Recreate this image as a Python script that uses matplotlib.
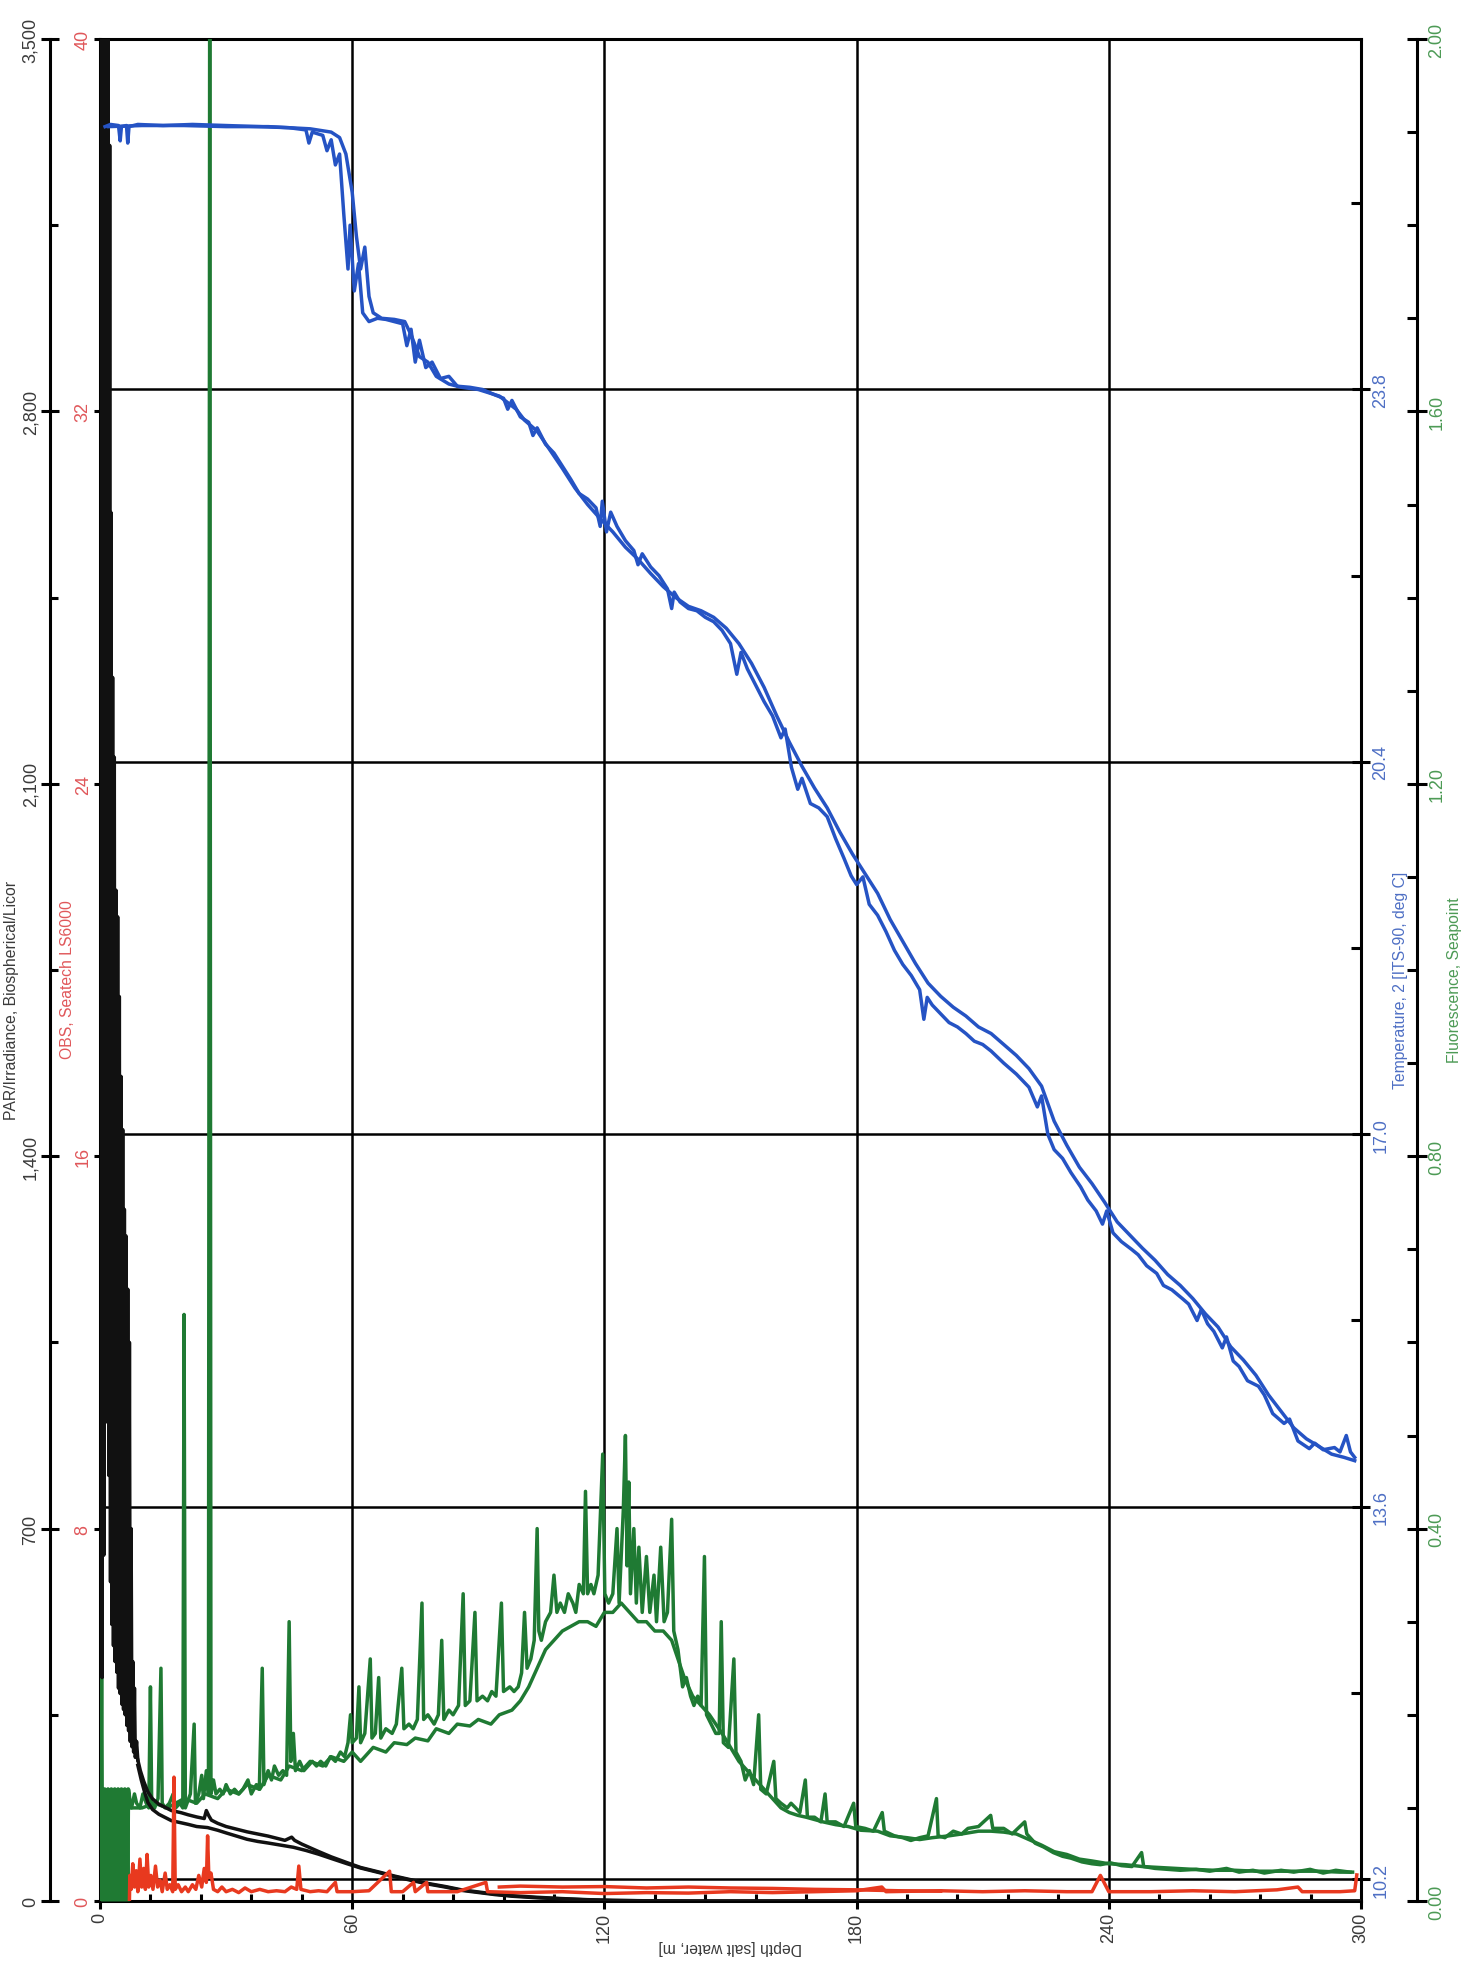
import numpy as np
import matplotlib
matplotlib.use('Agg')
import matplotlib.pyplot as plt
from matplotlib.ticker import MultipleLocator, FuncFormatter

plt.rcParams['font.family'] = ['Liberation Sans', 'DejaVu Sans']

# ---------------- data (depth m, value) ----------------
temp_down = [(1.2,26.20),(2.5,26.22),(4.4,26.21),(4.8,26.07),(5.1,26.20),(6.3,26.21),(6.6,26.05),(6.9,26.20),
             (9,26.22),(15,26.21),(22,26.22),(30,26.21),(38,26.20),(45,26.19),(49,26.17),(49.7,26.05),(50.5,26.15),
             (53,26.12),(54,25.98),(55,26.08),(56,25.85),(57,25.95),(58,25.4),(59,24.9),(59.5,25.3),(60.5,24.7),
             (61.5,24.95),(62.5,24.5),(64,24.42),(66,24.45),(68,24.44),(70,24.42),(72,24.40),(73,24.2),(74,24.35),
             (75,24.05),(76,24.25),(77.5,24.0),(79,24.05),(81,23.9),(83,23.92),(85,23.83),(88,23.82),(91,23.80),
             (94,23.75),(96,23.72),(97,23.62),(98,23.70),(100,23.55),(102,23.50),(103,23.38),(104,23.45),(106,23.30),
             (108,23.22),(110,23.10),(112,22.98),(114,22.85),(116,22.80),(118,22.72),(119,22.55),(119.5,22.78),
             (120.5,22.50),(121.5,22.68),(123,22.55),(125,22.42),(127,22.33),(128,22.20),(129,22.30),(131,22.18),
             (133,22.10),(135,21.98),(136,21.80),(136.6,21.95),(138,21.86),(140,21.80),(142,21.78),(144,21.72),
             (146,21.68),(148,21.60),(150,21.48),(151.5,21.20),(152.5,21.40),(154,21.25),(156,21.10),(158,20.95),
             (160,20.82),(162,20.62),(163,20.70),(164.5,20.35),(166,20.15),(167,20.25),(169,20.02),(171,19.98),
             (173,19.90),(175,19.70),(177,19.52),(178.7,19.36),(180,19.28),(181.5,19.35),(183,19.10),(185,19.00),
             (187,18.85),(189,18.68),(191,18.55),(193,18.45),(195,18.32),(196,18.05),(196.8,18.25),(198,18.18),
             (200,18.10),(202,18.02),(204,17.98),(206,17.92),(208,17.85),(210,17.82),(212,17.76),(215,17.65),
             (218,17.55),(221,17.43),(223,17.25),(224,17.35),(225.5,17.00),(227,16.86),(229,16.78),(231,16.65),
             (233.3,16.52),(235,16.40),(237,16.30),(238.5,16.18),(239.5,16.30),(241,16.10),(243,16.02),(245.4,15.95),
             (247,15.90),(249,15.80),(251.4,15.73),(253,15.62),(255,15.58),(257.5,15.50),(259,15.45),(261,15.30),
             (262,15.40),(263.5,15.27),(265,15.20),(267,15.05),(268,15.15),(269.6,14.93),(271,14.88),(273,14.75),
             (275.6,14.70),(277,14.62),(279,14.45),(281.7,14.36),(283,14.40),(285,14.20),(287.7,14.13),(289,14.18),
             (291,14.12),(293.7,14.14),(295,14.10),(296.5,14.25),(297.5,14.10),(298.5,14.05)]

temp_up = [(2,26.20),(10,26.21),(20,26.21),(30,26.20),(40,26.20),(50,26.18),(55,26.15),(57,26.10),(58.5,25.95),
           (60,25.6),(61,25.2),(62,24.9),(63,25.1),(64,24.65),(65,24.5),(67,24.45),(70,24.44),(72.5,24.42),
           (74,24.30),(76,24.10),(78,24.05),(80,23.92),(83,23.85),(86,23.82),(90,23.80),(95,23.74),(99,23.62),
           (101,23.52),(104,23.42),(107,23.25),(110,23.08),(113,22.90),(116,22.75),(119,22.62),(122,22.50),
           (125,22.36),(128,22.25),(131,22.12),(134,22.00),(137,21.90),(140,21.82),(143,21.78),(146,21.72),
           (149,21.62),(152,21.48),(155,21.30),(158,21.08),(161,20.82),(164,20.58),(167,20.36),(170,20.16),
           (173,19.98),(176,19.76),(179,19.56),(182,19.38),(185,19.20),(188,18.96),(191,18.76),(194,18.56),
           (197,18.38),(200,18.26),(203,18.16),(206,18.08),(209,17.98),(212,17.92),(215,17.82),(218,17.72),
           (221,17.60),(224,17.44),(227,17.12),(230,16.90),(233,16.70),(236,16.55),(239,16.38),(242,16.20),
           (245,16.08),(248,15.96),(251,15.85),(254,15.72),(257,15.62),(260,15.50),(263,15.36),(266,15.24),
           (269,15.06),(272,14.94),(275,14.80),(278,14.62),(281,14.47),(284,14.32),(287,14.22),(290,14.15),
           (293,14.08),(296,14.05),(298.5,14.02)]

fluor_surface = [(0.1,0.0),(0.3,0.31),(0.5,0.02),(0.7,0.11),(0.9,0.01),(1.1,0.12),(1.3,0.02),(1.5,0.11),(1.7,0.0),
                 (1.9,0.12),(2.1,0.03),(2.3,0.115),(2.5,0.01),(2.7,0.12),(2.9,0.02),(3.1,0.11),(3.3,0.0),(3.5,0.12),
                 (3.7,0.02),(3.9,0.115),(4.1,0.01),(4.3,0.12),(4.5,0.02),(4.7,0.11),(4.9,0.0),(5.1,0.12),(5.3,0.03),
                 (5.5,0.11),(5.7,0.01),(5.9,0.12),(6.1,0.02),(6.3,0.115),(6.5,0.0),(6.7,0.12),(7.0,0.11)]

fluor_down = [(7.0,0.11),(7.5,0.10),(8.2,0.115),(8.7,0.105),(9.5,0.10),(10.2,0.115),(11.0,0.105),(11.6,0.10),(12.0,0.23),
              (12.3,0.105),(13.0,0.10),(13.8,0.11),(14.5,0.25),(14.8,0.105),(15.5,0.10),(16.5,0.105),(17.4,0.115),
              (18.0,0.10),(19.0,0.105),(19.7,0.10),(20.0,0.63),(20.3,0.10),(21.5,0.115),(22.4,0.19),(22.7,0.105),
              (23.5,0.115),(24.2,0.135),(24.6,0.11),(25.3,0.14),(25.8,0.115),(26.1,2.10),(26.4,0.115),(27.0,0.13),
              (27.6,0.115),(28.5,0.12),(29.3,0.115),(30.0,0.125),(31.0,0.115),(32.0,0.12),(33.0,0.115),(34.0,0.12),
              (35.2,0.13),(36.0,0.115),(37.2,0.125),(37.9,0.12),(38.6,0.25),(39.0,0.125),(40.0,0.14),(40.8,0.13),
              (41.5,0.145),(42.5,0.135),(43.5,0.14),(44.4,0.135),(45.0,0.30),(45.4,0.15),(46.0,0.18),(46.5,0.14),
              (47.5,0.15),(48.5,0.14),(49.5,0.145),(50.5,0.15),(51.5,0.145),(52.5,0.15),(53.7,0.145),(54.8,0.155),
              (56.0,0.15),(57.2,0.16),(58.2,0.155),(59.0,0.17),(59.6,0.20),(60.0,0.17),(61.0,0.175),(61.6,0.23),
              (62.0,0.17),(63.0,0.18),(64.3,0.26),(64.7,0.175),(65.5,0.18),(66.3,0.24),(66.8,0.175),(68.0,0.185),
              (69.5,0.18),(70.5,0.19),(71.8,0.25),(72.3,0.185),(73.5,0.19),(74.5,0.185),(75.5,0.195),(76.6,0.32),
              (77.0,0.195),(78.0,0.20),(79.5,0.19),(80.5,0.20),(81.3,0.28),(81.8,0.195),(83.0,0.205),(84.0,0.20),
              (85.3,0.21),(86.4,0.33),(86.9,0.21),(88.0,0.215),(89.2,0.31),(89.7,0.215),(91.0,0.22),(92.2,0.215),
              (93.2,0.225),(94.2,0.22),(95.5,0.32),(96.0,0.225),(97.5,0.23),(98.5,0.225),(99.5,0.23),(100.3,0.245),
              (101.0,0.31),(101.6,0.25),(102.5,0.26),(103.3,0.28),(104.0,0.40),(104.4,0.29),(105.0,0.28),
              (106.0,0.30),(107.2,0.31),(108.0,0.35),(108.7,0.31),(109.5,0.32),(110.5,0.31),(111.4,0.33),
              (112.5,0.32),(113.2,0.31),(114.0,0.34),(115.0,0.33),(115.5,0.44),(116.0,0.33),(116.8,0.34),
              (117.5,0.33),(118.5,0.35),(119.6,0.48),(120.1,0.33),(121.0,0.32),(122.0,0.33),(123.0,0.40),
              (123.5,0.32),(124.5,0.42),(125.0,0.50),(125.4,0.36),(125.8,0.45),(126.2,0.33),(127.0,0.40),
              (127.6,0.32),(128.2,0.38),(129.0,0.31),(130.0,0.37),(130.8,0.31),(131.8,0.35),(132.4,0.30),
              (133.4,0.38),(134.2,0.30),(135.0,0.31),(136.0,0.41),(136.5,0.29),(137.5,0.27),(138.6,0.23),
              (139.5,0.24),(140.5,0.22),(141.3,0.21),(142.2,0.22),(143.0,0.21),(143.8,0.37),(144.3,0.20),
              (145.4,0.19),(146.5,0.18),(147.3,0.18),(147.8,0.30),(148.3,0.17),(149.5,0.165),(150.8,0.26),
              (151.3,0.16),(152.5,0.15),(153.5,0.13),(154.5,0.14),(155.5,0.125),(156.7,0.20),(157.2,0.12),
              (158.5,0.115),(160.3,0.15),(160.8,0.11),(162.0,0.105),(163.5,0.10),(164.4,0.105),(165.5,0.10),
              (166.5,0.095),(167.8,0.13),(168.3,0.09),(170.0,0.09),(171.5,0.085),(172.5,0.115),(173.0,0.085),
              (175.0,0.085),(177.0,0.08),(179.3,0.105),(179.8,0.08),(182.0,0.078),(184.0,0.075),(186.1,0.095),
              (186.6,0.075),(189.0,0.07),(191.0,0.068),(192.9,0.065),(195.0,0.068),(197.0,0.07),(199.0,0.11),
              (199.4,0.07),(201.0,0.068),(203.0,0.075),(205.0,0.072),(206.5,0.078),(209.0,0.08),(211.9,0.092),
              (212.4,0.078),(215.0,0.078),(217.0,0.072),(220.0,0.085),(220.5,0.072),(222.5,0.062),(224.5,0.058),
              (226.8,0.052),(229.0,0.048),(231.0,0.046),(233.6,0.042),(236.0,0.04),(238.0,0.039),(240.4,0.041),
              (243.0,0.038),(245.5,0.037),(247.8,0.052),(248.3,0.037),(251.0,0.035),(254.0,0.034),(257.0,0.033),
              (260.8,0.034),(264.0,0.032),(268.0,0.035),(271.0,0.031),(274.3,0.033),(277.0,0.030),(281.0,0.033),
              (284.0,0.031),(287.9,0.034),(291.0,0.030),(294.0,0.033),(297.4,0.031)]

fluor_up = [(7.0,0.10),(10,0.10),(13,0.105),(16,0.10),(20,0.11),(23,0.105),(25,0.115),(28,0.11),(30,0.12),
            (33,0.115),(35,0.125),(38,0.12),(40,0.135),(43,0.13),(45,0.145),(48,0.14),(50,0.15),(53,0.145),
            (55,0.155),(58,0.15),(60,0.16),(62,0.15),(65,0.165),(68,0.16),(70,0.17),(73,0.168),(75,0.175),
            (78,0.172),(80,0.185),(83,0.18),(85,0.19),(88,0.188),(90,0.195),(93,0.19),(95,0.20),(98,0.205),
            (100,0.215),(102,0.23),(104,0.25),(106,0.27),(108,0.28),(110,0.29),(112,0.295),(114,0.30),(116,0.30),
            (118,0.295),(120,0.31),(122,0.31),(124,0.32),(126,0.31),(128,0.30),(130,0.30),(132,0.29),(134,0.29),
            (136,0.28),(137.5,0.26),(139,0.24),(141,0.22),(143,0.21),(145,0.20),(148,0.18),(150,0.165),
            (152,0.15),(154,0.14),(156,0.13),(158,0.12),(160,0.11),(162,0.10),(164,0.095),(166,0.092),
            (168,0.09),(172,0.085),(175,0.082),(178,0.08),(181,0.076),(185,0.075),(188,0.07),(192,0.068),
            (195,0.066),(198,0.068),(202,0.07),(205,0.072),(209,0.075),(212,0.075),(215,0.074),(218,0.072),
            (221,0.066),(224,0.06),(227,0.053),(230,0.05),(233,0.045),(236,0.043),(240,0.04),(244,0.039),
            (248,0.037),(252,0.036),(256,0.035),(260,0.034),(265,0.033),(270,0.033),(275,0.032),(280,0.032),
            (285,0.032),(290,0.032),(295,0.031),(298,0.031)]

par_surface = [(0.3,3900),(0.5,420),(0.7,3900),(0.9,650),(1.1,3900),(1.3,900),(1.5,3900),(1.7,1150),(1.9,3900),
               (2.1,800),(2.3,3300),(2.5,600),(2.6,2610),(2.8,520),(3.0,2300),(3.2,480),(3.4,2150),(3.6,450),
               (3.8,1900),(4.0,430),(4.2,1850),(4.4,400),(4.6,1700),(4.8,390),(5.0,1550),(5.2,370),(5.4,1450),
               (5.6,360),(5.8,1300),(6.0,350),(6.2,1250),(6.4,330),(6.6,1150),(6.8,320),(7.0,1050),(7.2,300),
               (7.4,700),(7.6,290),(7.8,450),(8.0,280),(8.2,400),(8.4,270),(8.7,300),(9.0,265)]

par_down = [(9.0,265),(9.6,245),(10.4,225),(11.4,205),(12.5,192),(14,182),(15.5,176),(17,170),(19.3,166),
            (21,162),(23,158),(24.8,155),(25.3,170),(25.9,160),(26.5,152),(28,146),(30,140),(32.5,135),(35,130),
            (37.5,126),(40,122),(42,118),(44,114),(45.6,120),(46.3,114),(48,107),(50,100),(52,93),(55,83),(58.8,72),
            (62,63),(66.6,54),(70,47),(74.5,39),(78,33),(82.3,27),(86,21),(90,17),(94,13),(98,10),(104,7),
            (110,4.5),(116,2.5),(122,1.2),(130,0.4),(140,0),(200,0),(260,0),(300,0)]

par_up = [(9.0,255),(9.8,228),(10.6,205),(11.4,185),(12.5,172),(14,163),(15.5,157),(17,151),(19.3,147),
          (21,144),(23,140),(25.6,138),(28,133),(30,128),(32.5,122),(35,116),(37.5,112),(40,109),(43,105),(46,101),
          (49,95),(52,88),(55,80),(58.8,70),(62,62),(66.6,53),(70,46),(74.5,38),(78,32),(82.3,26),(86,20),
          (90,16),(94,12),(98,9),(104,6),(110,4),(116,2),(122,1),(130,0.3),(140,0),(200,0),(260,0),(300,0)]

obs_down = [(7.0,0.0),(7.1,0.55),(7.4,0.25),(7.8,0.8),(8.2,0.3),(8.6,0.65),(9.0,0.2),(9.5,0.9),(9.9,0.3),(10.4,0.7),
            (10.8,0.25),(11.2,1.0),(11.6,0.3),(12.1,0.55),(12.6,0.25),(13.2,0.75),(13.7,0.3),(14.3,0.45),(14.8,0.2),
            (15.5,0.6),(16.0,0.25),(16.6,0.35),(17.3,0.2),(17.6,2.66),(17.9,0.25),(18.6,0.35),(19.4,0.2),(20.3,0.3),
            (21,0.2),(22,0.35),(22.8,0.25),(23.5,0.55),(24.2,0.3),(24.8,0.7),(25.3,0.4),(25.6,1.4),(25.9,0.5),
            (26.4,0.6),(27,0.25),(28,0.2),(29,0.3),(30,0.2),(31.5,0.25),(33,0.18),(34.5,0.28),(36,0.2),(38,0.25),
            (40,0.2),(42,0.22),(44,0.2),(45.5,0.3),(46.8,0.25),(47.3,0.75),(47.8,0.25),(50,0.2),(52,0.22),(54,0.2),
            (56,0.4),(56.4,0.2),(60,0.2),(64,0.22),(68.9,0.64),(69.3,0.2),(72,0.2),(74.6,0.4),(75,0.2),(77.7,0.4),
            (78,0.2),(85,0.2),(91.8,0.4),(92.2,0.2),(100,0.18),(110,0.2),(120,0.16),(130,0.18),(140,0.17),
            (150,0.2),(160,0.18),(170,0.2),(180,0.22),(186,0.3),(187,0.2),(200,0.22),(210,0.2),(220,0.22),
            (230,0.2),(236,0.2),(238,0.55),(240,0.2),(250,0.2),(260,0.22),(270,0.2),(280,0.24),(285,0.3),
            (286,0.2),(295,0.2),(298.5,0.22),(299,0.56)]

obs_up = [(95,0.3),(100,0.32),(110,0.3),(120,0.31),(130,0.28),(140,0.3),(150,0.28),(160,0.27),(170,0.25),
          (180,0.24),(190,0.22),(200,0.21)]

depth_ticks = [0, 60, 120, 180, 240, 300]
par_ticks = [0, 700, 1400, 2100, 2800, 3500]
obs_ticks = [0, 8, 16, 24, 32, 40]
temp_ticks = [10.2, 13.6, 17.0, 20.4, 23.8]
temp_minor = [11.9, 15.3, 18.7, 22.1, 25.5]
fluor_ticks = [0.0, 0.4, 0.8, 1.2, 1.6, 2.0]

# ---------------- colours ----------------
C_BLUE, C_GREEN, C_RED, C_BLACK = '#2553c4', '#1f7a33', '#e8391f', '#111111'
T_GREY, T_RED, T_BLUE, T_GREEN = '#3a3a3a', '#e0575a', '#4e6fc4', '#4c9a55'
LW_AX, LW_DATA = 2.2, 2.5
FS_TICK, FS = 13, 11.3

fig = plt.figure(figsize=(14.64, 19.65), dpi=100)
W, H = 1464, 1965
ax = fig.add_axes([100 / W, 63 / H, 1261 / W, 1862 / H])
ax.set_zorder(0)

def hide(a, keep=()):
    for s in ['left', 'right', 'top', 'bottom']:
        a.spines[s].set_visible(s in keep)

# host: depth axis + OBS spine
ax.set_xlim(0, 300)
ax.set_ylim(0, 40)
hide(ax, keep=('left', 'top', 'bottom'))
for s in ax.spines.values():
    s.set_linewidth(LW_AX)
ax.set_xticks(depth_ticks)
ax.xaxis.set_minor_locator(MultipleLocator(12))
ax.tick_params(axis='x', which='major', direction='out', length=6, width=LW_AX, pad=2,
               labelsize=FS_TICK, labelrotation=90, labelcolor=T_GREY)
ax.tick_params(axis='x', which='minor', direction='in', length=5, width=LW_AX)
ax.grid(axis='x', which='major', color='k', lw=1.8)
ax.set_yticks(obs_ticks)
ax.tick_params(axis='y', direction='out', length=4.5, width=LW_AX, pad=1.5,
               labelsize=FS_TICK, labelrotation=90, labelcolor=T_RED)
plt.setp(ax.get_yticklabels(), va='center')

# temperature axis (right spine, horizontal grid)
ax_t = ax.twinx()
ax_t.set_zorder(1)
ax_t.set_ylim(10.0, 27.0)
hide(ax_t, keep=('right',))
ax_t.spines['right'].set_linewidth(LW_AX)
ax_t.set_yticks(temp_ticks)
ax_t.set_yticks(temp_minor, minor=True)
ax_t.yaxis.set_major_formatter(FuncFormatter(lambda v, p: f'{v:.1f}'))
ax_t.tick_params(axis='y', which='major', direction='inout', length=13.5, width=LW_AX, pad=1.5,
                 labelsize=FS_TICK, labelrotation=90, labelcolor=T_BLUE)
ax_t.tick_params(axis='y', which='minor', direction='in', length=7, width=LW_AX)
plt.setp(ax_t.get_yticklabels(), va='center')
ax_t.grid(axis='y', which='major', color='k', lw=1.8)

# fluorescence axis (outer right)
ax_f = ax.twinx()
ax_f.set_zorder(2)
ax_f.set_ylim(0, 2.0)
hide(ax_f, keep=('right',))
ax_f.spines['right'].set_position(('outward', 40))
ax_f.spines['right'].set_linewidth(LW_AX)
ax_f.set_yticks(fluor_ticks)
ax_f.yaxis.set_minor_locator(MultipleLocator(0.1))
ax_f.yaxis.set_major_formatter(FuncFormatter(lambda v, p: f'{v:.2f}'))
ax_f.tick_params(axis='y', which='major', direction='inout', length=14, width=LW_AX, pad=1.5,
                 labelsize=FS_TICK, labelrotation=90, labelcolor=T_GREEN)
ax_f.tick_params(axis='y', which='minor', direction='in', length=7, width=LW_AX)
plt.setp(ax_f.get_yticklabels(), va='center')

# PAR axis (outer left)
ax_p = ax.twinx()
ax_p.set_zorder(3)
ax_p.set_ylim(0, 3500)
hide(ax_p, keep=('left',))
ax_p.yaxis.set_ticks_position('left')
ax_p.spines['left'].set_position(('outward', 36))
ax_p.spines['left'].set_linewidth(LW_AX)
ax_p.set_yticks(par_ticks)
ax_p.yaxis.set_minor_locator(MultipleLocator(350))
ax_p.yaxis.set_major_formatter(FuncFormatter(lambda v, p: f'{v:,.0f}'))
ax_p.tick_params(axis='y', which='major', direction='inout', length=12.5, width=LW_AX, pad=1.5,
                 labelsize=FS_TICK, labelrotation=90, labelcolor=T_GREY)
ax_p.tick_params(axis='y', which='minor', direction='in', length=6, width=LW_AX)
plt.setp(ax_p.get_yticklabels(), va='center')

# red OBS data and blue temperature data on their own layers
ax_r = ax.twinx()
ax_r.set_zorder(4)
ax_r.set_ylim(0, 40)
hide(ax_r)
ax_r.set_yticks([])

ax_b = ax.twinx()
ax_b.set_zorder(5)
ax_b.set_ylim(10.0, 27.0)
hide(ax_b)
ax_b.set_yticks([])

def xy(series):
    arr = np.array(series, dtype=float)
    return arr[:, 0], arr[:, 1]

# near-surface fluorescence is a solid smear in the scan
d, v = xy(fluor_surface)
ax_f.fill_between(d, 0, v, color=C_GREEN, lw=0)
ax_f.plot(d, v, color=C_GREEN, lw=3.0)
for series in (fluor_up, fluor_down):
    d, v = xy(series)
    ax_f.plot(d, v, color=C_GREEN, lw=LW_DATA)
for series in (par_up, par_down, par_surface):
    d, v = xy(series)
    ax_p.plot(d, v, color=C_BLACK, lw=LW_DATA)
for series in (obs_up, obs_down):
    d, v = xy(series)
    ax_r.plot(d, v, color=C_RED, lw=LW_DATA)
for series in (temp_up, temp_down):
    d, v = xy(series)
    ax_b.plot(d, v, color=C_BLUE, lw=LW_DATA)

# axis titles
ymid = 1 - 980 / H
fig.text(12 / W, 1 - 1000 / H, 'PAR/Irradiance, Biospherical/Licor', rotation=90, ha='center', va='center',
         fontsize=FS, color=T_GREY)
fig.text(67 / W, ymid, 'OBS, Seatech LS6000', rotation=90, ha='center', va='center',
         fontsize=FS, color=T_RED)
fig.text(1401 / W, ymid, 'Temperature, 2 [ITS-90, deg C]', rotation=90, ha='center', va='center',
         fontsize=FS, color=T_BLUE)
fig.text(1455 / W, ymid, 'Fluorescence, Seapoint', rotation=90, ha='center', va='center',
         fontsize=FS, color=T_GREEN)
fig.text((100 + 1261 / 2) / W, 1 - 1948 / H, 'Depth [salt water, m]', rotation=180, ha='center',
         va='center', fontsize=FS, color=T_GREY)

fig.savefig('out.png', dpi=100, facecolor='white')
